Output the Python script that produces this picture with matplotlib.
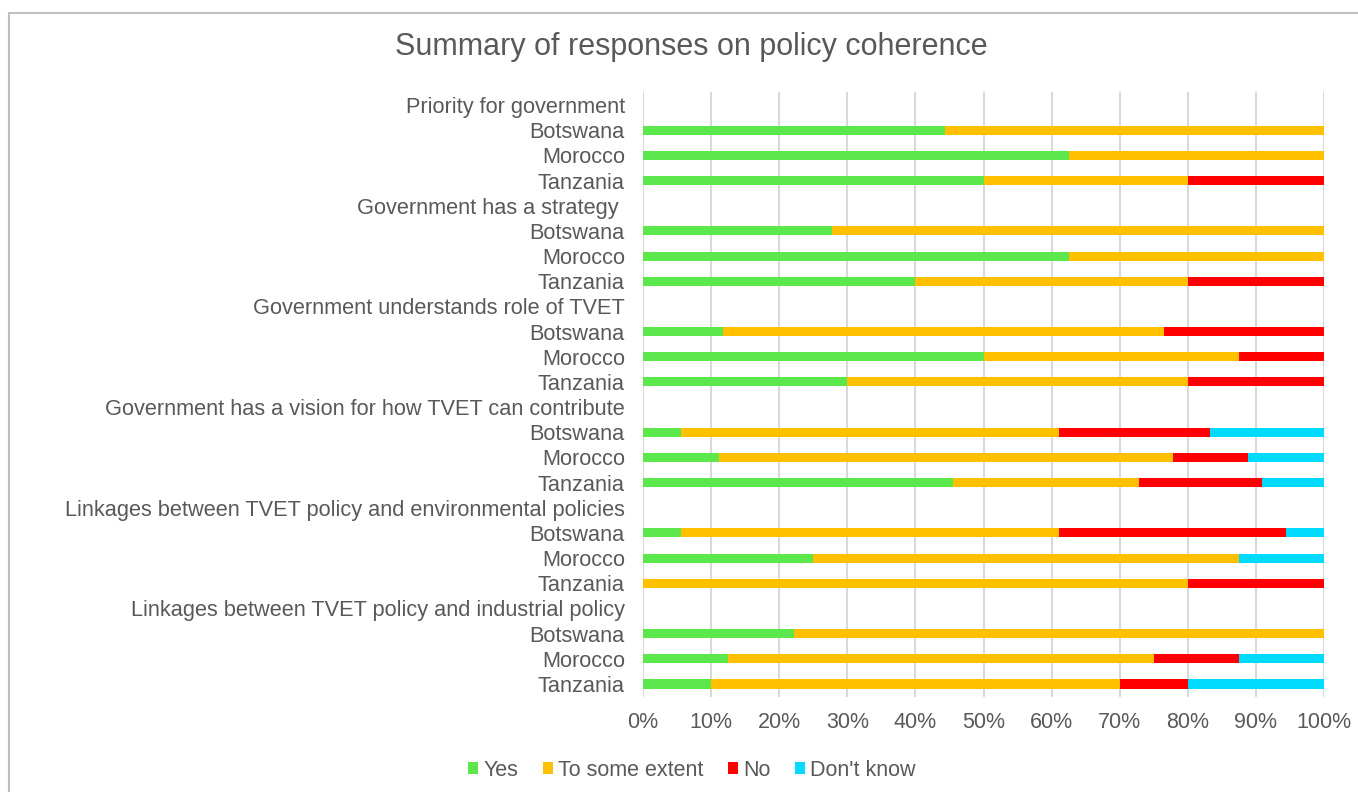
import matplotlib
matplotlib.use("Agg")
import matplotlib.pyplot as plt
from matplotlib.patches import Rectangle
from matplotlib.ticker import PercentFormatter
import numpy as np

plt.rcParams['font.family'] = ['Liberation Sans', 'DejaVu Sans']

groups = [
    "Priority for government",
    "Government has a strategy ",
    "Government understands role of TVET",
    "Government has a vision for how TVET can contribute",
    "Linkages between TVET policy and environmental policies",
    "Linkages between TVET policy and industrial policy",
]
countries = ["Botswana", "Morocco", "Tanzania"]

series_names = ["Yes", "To some extent", "No", "Don't know"]
# shares per (group, country), in percent
yes = [44.4, 62.5, 50.0,
       27.8, 62.5, 40.0,
       11.8, 50.0, 30.0,
       5.6, 11.1, 45.5,
       5.6, 25.0, 0.0,
       22.2, 12.5, 10.0]
some_extent = [55.6, 37.5, 30.0,
               72.2, 37.5, 40.0,
               64.7, 37.5, 50.0,
               55.5, 66.7, 27.3,
               55.5, 62.5, 80.0,
               77.8, 62.5, 60.0]
no = [0.0, 0.0, 20.0,
      0.0, 0.0, 20.0,
      23.5, 12.5, 20.0,
      22.2, 11.1, 18.1,
      33.3, 0.0, 20.0,
      0.0, 12.5, 10.0]
dont_know = [0.0, 0.0, 0.0,
             0.0, 0.0, 0.0,
             0.0, 0.0, 0.0,
             16.7, 11.1, 9.1,
             5.6, 12.5, 0.0,
             0.0, 12.5, 20.0]
colors = ["#5CE84C", "#FFC000", "#FF0000", "#00DAFF"]
text_gray = "#595959"

# build row layout: a header row per group followed by one row per country
labels, positions = [], []
bar_rows = []
row = 0
for g in groups:
    labels.append(g)
    positions.append(row)
    row += 1
    for c in countries:
        labels.append(c)
        positions.append(row)
        bar_rows.append(row)
        row += 1
n_rows = row

fig = plt.figure(figsize=(13.58, 7.92), dpi=100)
fig.patches.append(Rectangle((9 / 1358, -0.05), 1.1, 1 - 13 / 792 + 0.05,
                             transform=fig.transFigure, fill=False,
                             edgecolor="#BFBFBF", linewidth=1.5))

ax = fig.add_axes([643 / 1358, 0.1205, (1324 - 643) / 1358, 0.8833 - 0.1205])

left = np.zeros(len(bar_rows))
for name, vals, col in zip(series_names, [yes, some_extent, no, dont_know], colors):
    v = np.array(vals)
    ax.barh(bar_rows, v, left=left, height=0.36, color=col, label=name,
            zorder=3, linewidth=0)
    left += v

ax.set_xlim(0, 100)
ax.set_ylim(n_rows - 0.5, -0.5)
ax.set_xticks(np.arange(0, 101, 10))
ax.xaxis.set_major_formatter(PercentFormatter(decimals=0))
ax.set_yticks(positions)
ax.set_yticklabels(labels)
ax.tick_params(axis='y', length=0, pad=13, labelsize=15.7, labelcolor=text_gray)
ax.tick_params(axis='x', length=0, pad=11, labelsize=15.5, labelcolor=text_gray)
ax.grid(axis='x', color="#D9D9D9", linewidth=1.5, zorder=0)
for s in ax.spines.values():
    s.set_visible(False)

fig.text(691 / 1358, 1 - 47 / 792, "Summary of responses on policy coherence",
         ha='center', va='center', fontsize=22, color=text_gray)

fig.legend(loc='center', bbox_to_anchor=(692 / 1358, 1 - 770 / 792), ncol=4,
           frameon=False, fontsize=15.5, labelcolor=text_gray,
           handlelength=0.45, handleheight=0.45, handletextpad=0.25,
           columnspacing=1.15)

fig.savefig("out.png", dpi=100)
